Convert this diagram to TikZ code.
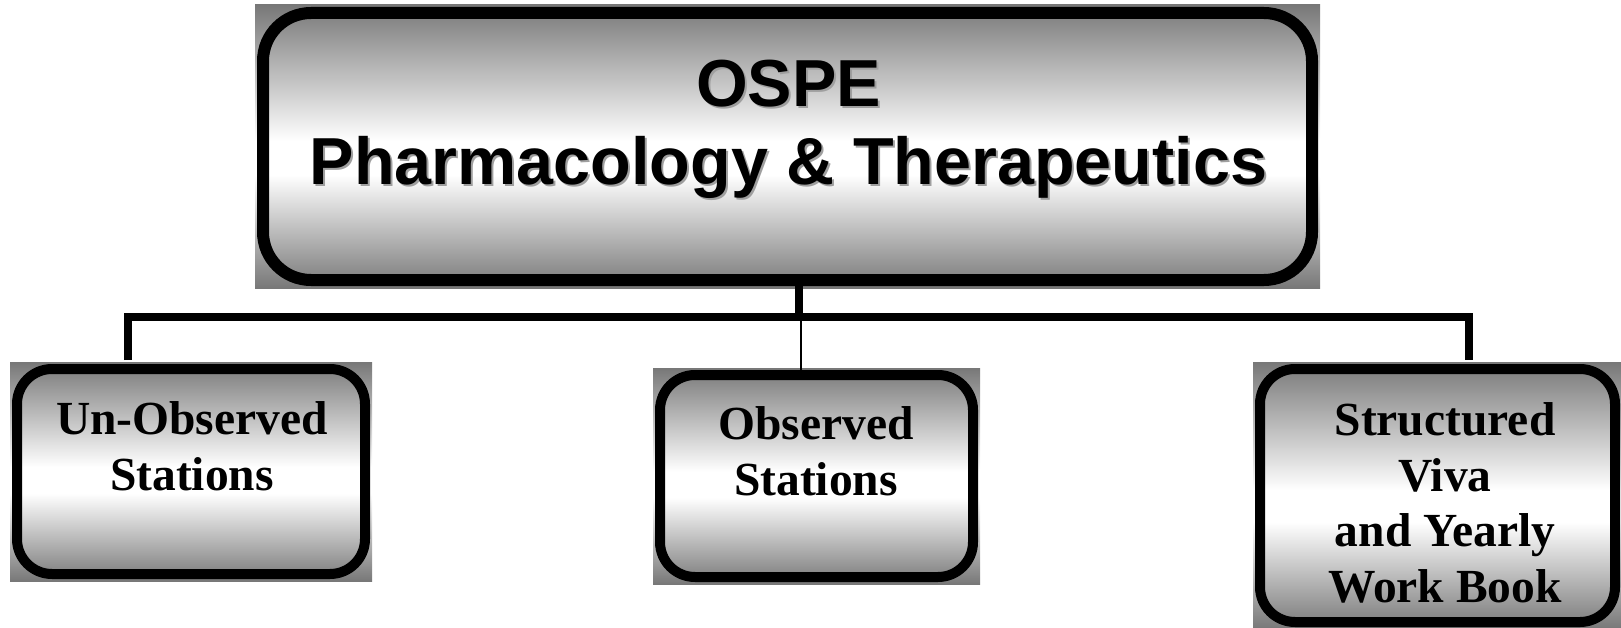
\documentclass[tikz,border=0pt]{standalone}
\usepackage{fontspec}
\setmainfont{Liberation Serif}
\newfontfamily\arialfont{Liberation Sans}
\usetikzlibrary{backgrounds}
\definecolor{chromegray}{gray}{0.47}
\pgfdeclareverticalshading{chrome}{100bp}{color(0bp)=(chromegray); color(25bp)=(chromegray); color(45bp)=(white); color(51bp)=(white); color(75bp)=(chromegray); color(100bp)=(chromegray)}
\tikzset{
  bigbox/.style={draw=black, line width=12pt, rounded corners=48pt, inner sep=0pt},
  smallbox/.style={draw=black, line width=10pt, rounded corners=35pt, inner sep=0pt},
  titletext/.style={font=\arialfont\bfseries\fontsize{66.5}{78}\selectfont, align=center, inner sep=0pt},
  labeltext/.style={font=\bfseries\fontsize{47.5}{55.5}\selectfont, align=center, inner sep=0pt},
  conn/.style={draw=black, line width=8pt},
  thinconn/.style={draw=black, line width=2pt},
  chromefill/.style={shading=chrome}
}
\begin{document}
\begin{tikzpicture}[x=1pt,y=-1pt]
\useasboundingbox (0,0) rectangle (1621,628);
% boxes
\node[bigbox, minimum width=1049pt, minimum height=267pt] (top) at (787.5,146.5) {};
\node[smallbox, minimum width=348pt, minimum height=205pt] (left) at (191,471.5) {};
\node[smallbox, minimum width=313pt, minimum height=202pt] (mid) at (816.5,476) {};
\node[smallbox, minimum width=355pt, minimum height=253pt] (right) at (1437.5,495.5) {};
\begin{scope}[on background layer]
  \shade[chromefill] ([shift={(-2pt,2pt)}]top.north west) rectangle ([shift={(2pt,-2pt)}]top.south east);
  \shade[chromefill] ([shift={(-2pt,2pt)}]left.north west) rectangle ([shift={(2pt,-2pt)}]left.south east);
  \shade[chromefill] ([shift={(-2pt,2pt)}]mid.north west) rectangle ([shift={(2pt,-2pt)}]mid.south east);
  \shade[chromefill] ([shift={(-2pt,2pt)}]right.north west) rectangle ([shift={(2pt,-2pt)}]right.south east);
\end{scope}
% texts
\node[titletext, text=gray!75] (titleshadow) at (790.5,131) {OSPE\\Pharmacology \& Therapeutics};
\node[titletext] (title) at (788.5,129) {OSPE\\Pharmacology \& Therapeutics};
\node[labeltext] (lefttext) at (192,446) {Un-Observed\\Stations};
\node[labeltext] (midtext) at (816,451) {Observed\\Stations};
\node[labeltext] (righttext) at (1445,503) {Structured\\Viva\\and Yearly\\Work Book};
% connectors
\coordinate (jt) at (799,317);
\coordinate (jl) at (128,317);
\coordinate (jr) at (1469,317);
\coordinate (el) at (128,360);
\coordinate (er) at (1469,360);
\coordinate (jm) at (801,321);
\draw[conn] (top.south -| jt) -- (jt);
\draw[conn] (el) -- (jl) -- (jr) -- (er);
\draw[thinconn] (jm) -- (mid.north -| jm);
\end{tikzpicture}
\end{document}
